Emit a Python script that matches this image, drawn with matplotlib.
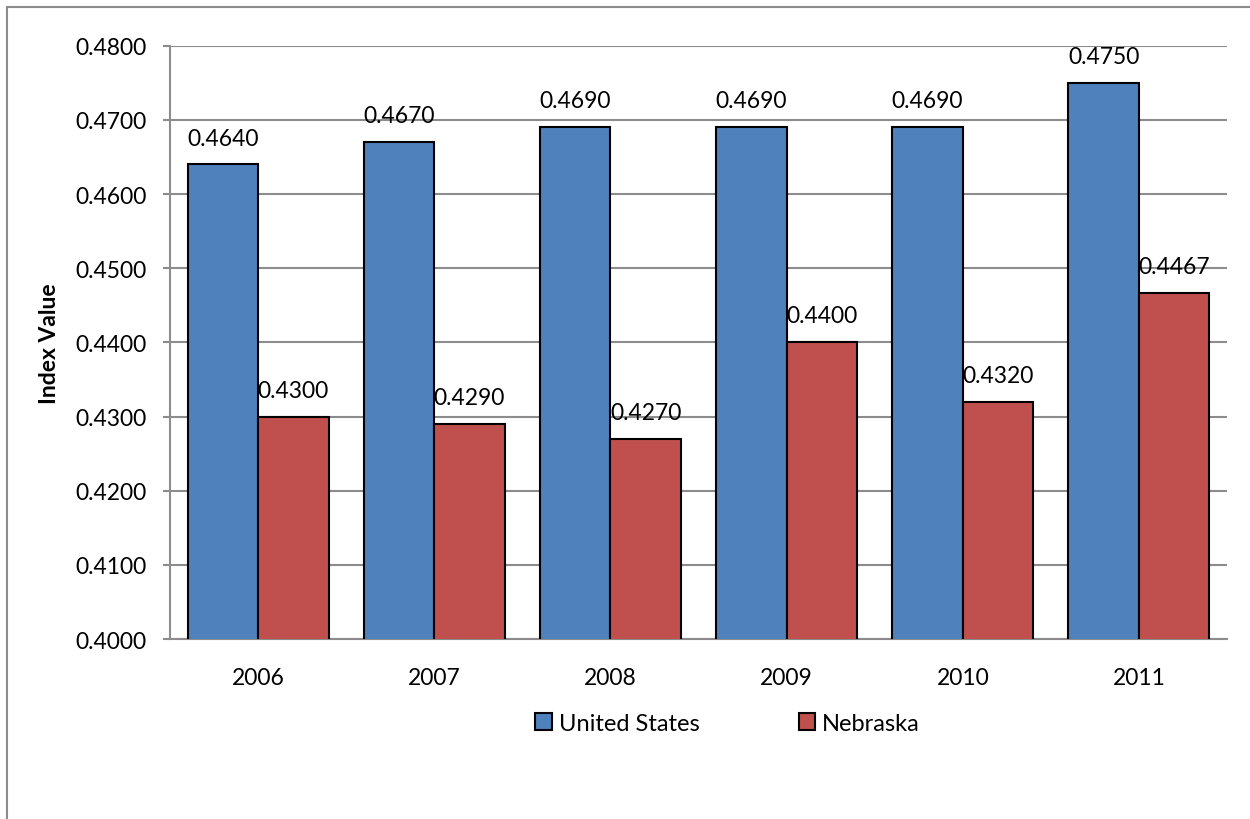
import numpy as np
import matplotlib.pyplot as plt
from matplotlib.patches import Rectangle
from matplotlib.lines import Line2D

years = ["2006", "2007", "2008", "2009", "2010", "2011"]
us = [0.4640, 0.4670, 0.4690, 0.4690, 0.4690, 0.4750]
ne = [0.4300, 0.4290, 0.4270, 0.4400, 0.4320, 0.4467]
yticks = [0.40, 0.41, 0.42, 0.43, 0.44, 0.45, 0.46, 0.47, 0.48]

plt.rcParams["font.family"] = ["Lato", "DejaVu Sans"]
blue = "#4F81BD"
red = "#C0504D"
grid = "#8C8C8C"
fs = 16.5

fig = plt.figure(figsize=(12.5, 8.2), dpi=100)
ax = fig.add_axes([0.136, 0.2195, 0.8456, 0.7235])

x = np.arange(len(years))
w = 0.4
b1 = ax.bar(x - w/2, us, w, color=blue, edgecolor="black", linewidth=1.5, zorder=3)
b2 = ax.bar(x + w/2, ne, w, color=red, edgecolor="black", linewidth=1.5, zorder=3)

for bars, vals in ((b1, us), (b2, ne)):
    for r, v in zip(bars, vals):
        ax.annotate("%.4f" % v, (r.get_x() + r.get_width()/2, v),
                    xytext=(0, 19), textcoords="offset points",
                    ha="center", va="center", fontsize=fs)

ax.set_xlim(-0.5, len(years) - 0.5)
ax.set_ylim(0.40, 0.48)
ax.set_yticks(yticks)
ax.set_yticklabels(["%.4f" % t for t in yticks], fontsize=fs)
ax.set_xticks(x)
ax.set_xticklabels(years, fontsize=fs)
ax.tick_params(axis="x", length=0, pad=20)
ax.tick_params(axis="y", length=5, color=grid, width=1.5, pad=12)
ax.yaxis.grid(True, color=grid, linewidth=1.5, zorder=0)
ax.set_axisbelow(True)
for s in ["top", "right"]:
    ax.spines[s].set_visible(False)
for s in ["left", "bottom"]:
    ax.spines[s].set_color(grid)
    ax.spines[s].set_linewidth(1.5)
ax.set_ylabel("Index Value", fontsize=fs, fontweight="bold", labelpad=11)

handles = [Rectangle((0, 0), 1, 1, facecolor=blue, edgecolor="black", linewidth=1.5),
           Rectangle((0, 0), 1, 1, facecolor=red, edgecolor="black", linewidth=1.5)]
fig.legend(handles, ["United States", "Nebraska"], loc="center",
           bbox_to_anchor=(0.582, 0.117), ncol=2, frameon=False, fontsize=17,
           handlelength=0.7, handleheight=0.7, handletextpad=0.3, columnspacing=4.2)

# outer chart border (only top and left visible)
fig.add_artist(Line2D([7/1250, 7/1250], [0, 1 - 8/820], transform=fig.transFigure,
                      color=grid, linewidth=1.5))
fig.add_artist(Line2D([7/1250, 1], [1 - 8/820, 1 - 8/820], transform=fig.transFigure,
                      color=grid, linewidth=1.5))

fig.savefig("out.png", dpi=100)
